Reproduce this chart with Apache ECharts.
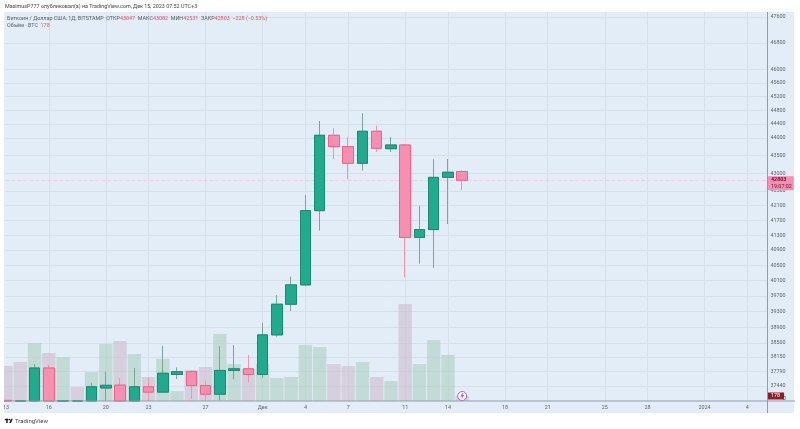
<!DOCTYPE html>
<html>
<head>
<meta charset="utf-8">
<title>BTC/USD</title>
<script src="https://cdn.jsdelivr.net/npm/echarts@6/dist/echarts.min.js"></script>
<style>
  html, body { margin: 0; padding: 0; background: #fff; }
  #chart { width: 800px; height: 429px; }
</style>
</head>
<body>
<div id="chart"></div>
<script>
// days from 13 Nov 2023, one entry per candle
const days = [0,1,2,3,4,5,6,7,8,9,10,11,12,13,14,15,16,17,18,19,20,21,22,23,24,25,26,27,28,29,30,31,32];
const opens = [37090,36480,35550,37880,36170,36600,36570,37390,37460,35800,37420,37290,37720,37790,37450,37240,37820,37860,37720,38705,39485,39985,41964,44073,43749,43278,44188,43690,43796,41240,41450,42883,43047];
const closes = [36480,35550,37880,36170,36600,36570,37420,37456,35810,37420,37290,37750,37790,37450,37240,37820,37860,37720,38705,39485,39985,41964,44073,43749,43278,44188,43702,43796,41240,41450,42883,43026,42803];
const highs = [37090,36750,37980,37960,36900,36800,37520,37790,37630,37880,37650,38430,37895,37820,37570,38420,38450,38200,39007,39720,40200,42394,44486,44274,44034,44710,44350,44025,43820,42100,43390,43400,43082];
const lows = [36340,35100,35400,35900,36000,36400,36500,37075,35700,35700,37075,37270,37610,37130,37075,37090,37600,37525,37637,38660,39313,39960,41423,43400,42840,43071,43597,43597,40183,40540,40430,41600,42531];
const volumes = [1250,1390,2065,1710,1565,500,1030,2030,2135,1675,855,1495,355,1105,1210,2385,1315,1140,1315,820,855,1995,1920,1315,1245,1390,855,710,3450,1315,2170,1640,178];

const priceTicks = [47600,46800,46000,45600,45200,44800,44400,44000,43500,43000,42500,42100,41700,41300,40900,40500,40100,39700,39300,38900,38500,38150,37790,37440];
const dayTicks = [0,3,7,10,14,18,21,24,28,31,35,38,42,45,49,52];
const dayLabels = ['13','16','20','23','27','Дек','4','7','11','14','18','21','25','28','2024','4'];

const lastPrice = 42803;
const lastVolume = 178;
const priceMin = 37075;
const priceMax = 47755;

const FONT = 'Roboto, sans-serif';
const FONT_SIZE = 5.4;
const GRID_LINE = '#d6e0ea';
const AXIS_LINE = '#939ba8';
const TEXT = '#5f6570';
const UP = '#20ab8e', UP_BORDER = '#1b8a74', UP_WICK = '#7fa597';
const DOWN = '#f78fb2', DOWN_BORDER = '#ee6482', DOWN_WICK = '#e79aab';

// candlestick series does not clip its bodies, so hold them at the bottom of the pane
const floor = v => Math.max(v, priceMin);
const candles = days.map((d, i) => [d, floor(opens[i]), floor(closes[i]), floor(lows[i]), floor(highs[i])]);
// second pass draws bodies only, so wicks can stay paler than the body border
const bodies = days.map((d, i) => {
  const o = floor(opens[i]), c = floor(closes[i]);
  return [d, o, c, Math.min(o, c), Math.max(o, c)];
});
const volumeBars = days.map((d, i) => ({
  value: [d, volumes[i]],
  itemStyle: { color: closes[i] >= opens[i] ? 'rgba(176,209,196,0.62)' : 'rgba(205,186,203,0.58)' }
}));

const chart = echarts.init(document.getElementById('chart'));

chart.setOption({
  animation: false,
  backgroundColor: '#fff',
  textStyle: { fontFamily: FONT },
  grid: { left: 4, right: 33, top: 12, bottom: 28, containLabel: false },
  title: {
    left: 5, top: 4, padding: 0,
    text: 'MaximusP777 опубликовал(а) на TradingView.com, Дек 15, 2023 07:52 UTC+3',
    textStyle: { fontSize: FONT_SIZE, fontWeight: 'normal', color: '#444', fontFamily: FONT }
  },
  graphic: [
    { type: 'rect', z: -10, shape: { x: 4, y: 12, width: 790, height: 401 }, style: { fill: '#e2edf8' } },
    { type: 'rect', z: 100, shape: { x: 0, y: 12, width: 4, height: 403 }, style: { fill: '#fff' } },
    { type: 'line', z: 50, shape: { x1: 4, y1: 401, x2: 795, y2: 401 }, style: { stroke: AXIS_LINE, lineWidth: 1 } },
    { type: 'line', z: 50, shape: { x1: 767.5, y1: 12, x2: 767.5, y2: 413 }, style: { stroke: AXIS_LINE, lineWidth: 1 } },
    {
      type: 'text', z: 60, left: 7, top: 16,
      style: {
        rich: {
          a: { fontSize: FONT_SIZE, fill: '#5a6068', fontFamily: FONT },
          r: { fontSize: FONT_SIZE, fill: '#e2566f', fontFamily: FONT }
        },
        text: '{a|Биткоин / Доллар США, 1Д, BITSTAMP  ОТКР}{r|43047}{a|  МАКС}{r|43082}{a|  МИН}{r|42531}{a|  ЗАКР}{r|42803}{r|  −228 (−0.53%)}'
      }
    },
    {
      type: 'text', z: 60, left: 7, top: 23,
      style: {
        rich: {
          a: { fontSize: FONT_SIZE, fill: '#5a6068', fontFamily: FONT },
          r: { fontSize: FONT_SIZE, fill: '#e2566f', fontFamily: FONT }
        },
        text: '{a|Объём · BTC  }{r|178}'
      }
    },
    // TradingView logo
    { type: 'rect', z: 60, shape: { x: 4.8, y: 418.8, width: 3.6, height: 1.5 }, style: { fill: '#222' } },
    { type: 'rect', z: 60, shape: { x: 6.2, y: 418.8, width: 1.5, height: 4.2 }, style: { fill: '#222' } },
    { type: 'circle', z: 60, shape: { cx: 9.4, cy: 419.6, r: 0.8 }, style: { fill: '#222' } },
    { type: 'polygon', z: 60, shape: { points: [[9.2, 423], [11, 418.8], [12.8, 418.8], [11, 423]] }, style: { fill: '#222' } },
    { type: 'text', z: 60, left: 15, top: 418, style: { text: 'TradingView', fontSize: 6, fill: '#444', fontFamily: FONT } }
  ],
  xAxis: {
    type: 'value',
    min: -0.05,
    max: 53.38,
    axisLine: { show: false },
    // no grid line for the clipped first label
    axisTick: { show: false, customValues: dayTicks.slice(1) },
    splitLine: { show: true, lineStyle: { color: GRID_LINE, width: 1 } },
    axisLabel: {
      customValues: dayTicks,
      margin: 4,
      fontSize: FONT_SIZE,
      color: TEXT,
      hideOverlap: false,
      showMinLabel: true,
      formatter: v => dayLabels[dayTicks.indexOf(v)]
    }
  },
  yAxis: [
    {
      type: 'log',
      position: 'right',
      min: priceMin,
      max: priceMax,
      axisLine: { show: false },
      axisTick: { show: false, customValues: priceTicks },
      splitLine: { show: true, lineStyle: { color: GRID_LINE, width: 1 } },
      axisLabel: {
        customValues: priceTicks,
        margin: 3.5,
        fontSize: FONT_SIZE,
        color: TEXT,
        hideOverlap: false,
        formatter: v => String(Math.round(v))
      }
    },
    {
      type: 'value',
      position: 'right',
      min: 0,
      max: 13850,
      axisLine: { show: false },
      axisTick: { show: false, customValues: [0] },
      splitLine: { show: false },
      axisLabel: {
        customValues: [0],
        margin: 16,
        fontSize: FONT_SIZE,
        color: TEXT,
        verticalAlign: 'bottom'
      }
    }
  ],
  series: [
    {
      name: 'Объём',
      type: 'bar',
      yAxisIndex: 1,
      barWidth: 13.4,
      z: 1,
      data: volumeBars,
      markLine: {
        silent: true,
        symbol: 'none',
        lineStyle: { color: 'rgba(0,0,0,0)' },
        data: [{ yAxis: lastVolume }],
        label: {
          position: 'end',
          distance: 0,
          formatter: String(lastVolume),
          fontSize: FONT_SIZE,
          color: '#fff',
          backgroundColor: '#8e1f26',
          padding: [1, 4, 1, 4],
          fontFamily: FONT
        }
      },
      markPoint: {
        silent: true,
        label: { show: false },
        data: [
          {
            coord: [days[days.length - 1], lastVolume],
            symbol: 'circle',
            symbolSize: 9,
            itemStyle: { color: '#fff', borderColor: '#b25fd0', borderWidth: 1 }
          },
          {
            coord: [days[days.length - 1], lastVolume],
            symbol: 'path://M6 0L1 7h4l-1 5 6-8H6l2-4z',
            symbolSize: [4, 6],
            itemStyle: { color: '#b25fd0', borderWidth: 0 }
          }
        ]
      }
    },
    {
      name: 'Тени',
      type: 'candlestick',
      yAxisIndex: 0,
      barWidth: 11,
      z: 2,
      data: candles,
      itemStyle: { color: UP, color0: DOWN, borderColor: UP_WICK, borderColor0: DOWN_WICK, borderWidth: 1 },
      markLine: {
        silent: true,
        z: 2,
        symbol: 'none',
        lineStyle: { color: 'rgba(243,188,208,0.55)', type: 'dashed', width: 1 },
        data: [{ yAxis: lastPrice }],
        label: {
          position: 'end',
          distance: 0,
          offset: [0, 3],
          formatter: '{a|42803}\n{b|19:07:02}',
          backgroundColor: '#f78fb2',
          padding: [0, 2, 0, 4],
          rich: {
            a: { fontSize: FONT_SIZE, fontWeight: 'bold', color: '#6d1330', lineHeight: 7, fontFamily: FONT },
            b: { fontSize: FONT_SIZE, color: '#6d1330', lineHeight: 7, fontFamily: FONT }
          }
        }
      }
    },
    {
      name: 'BTC',
      type: 'candlestick',
      yAxisIndex: 0,
      barWidth: 11,
      z: 3,
      data: bodies,
      itemStyle: { color: UP, color0: DOWN, borderColor: UP_BORDER, borderColor0: DOWN_BORDER, borderWidth: 1 }
    }
  ]
});

window.addEventListener('resize', () => chart.resize());
</script>
</body>
</html>
